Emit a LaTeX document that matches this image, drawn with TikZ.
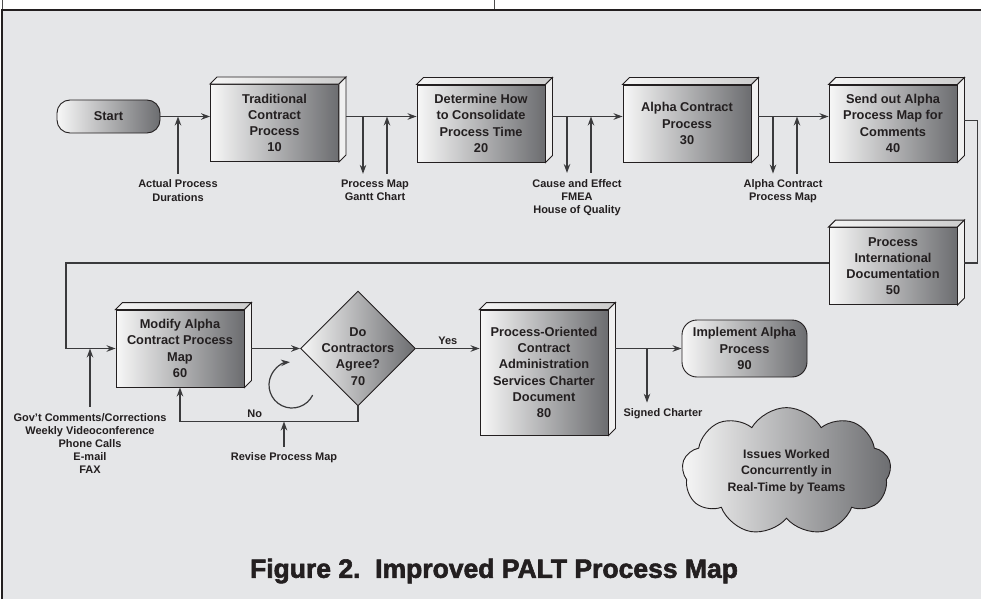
\documentclass[tikz,border=0pt]{standalone}
\usepackage{fontspec}
\setmainfont{Liberation Sans}
\newfontfamily\capfont[FakeBold=2.2]{Liberation Sans Bold}
\usetikzlibrary{arrows.meta,shapes.geometric,shapes.symbols}

\definecolor{panel}{HTML}{E5E6E8}
\definecolor{ink}{HTML}{231F20}
\definecolor{wire}{HTML}{3A3A3C}
\definecolor{faceL}{HTML}{F7F7F7}
\definecolor{faceR}{HTML}{6C6D70}
\newcommand{\boxfont}{\fontsize{12.8}{16.2}\selectfont\bfseries}
\newcommand{\lblfont}{\fontsize{11}{13.2}\selectfont\bfseries}

\begin{document}
\begin{tikzpicture}[x=1pt,y=-1pt,
    procbox/.style={draw=ink, line width=0.9pt, left color=faceL, right color=faceR,
      minimum width=128pt, minimum height=77pt, inner sep=1pt, align=center,
      font=\boxfont, text=ink},
    topface/.style={draw=ink, line width=0.9pt, left color=gray!8, right color=gray!40},
    sideface/.style={draw=ink, line width=0.9pt, fill=gray!12},
    terminal/.style={procbox, rounded corners=13pt},
    decision/.style={procbox, diamond, minimum width=115pt, minimum height=115pt, inner sep=0pt},
    inside/.style={font=\boxfont, text=ink, align=center, yshift=-8pt},
    issue/.style={procbox, cloud, cloud puffs=9, cloud puff arc=120, aspect=1.65,
      minimum width=209pt, minimum height=127pt, inner sep=0pt,
      font=\fontsize{12.3}{16.5}\selectfont\bfseries},
    note/.style={font=\lblfont, text=ink, align=center, inner sep=1pt},
    wire/.style={draw=wire, line width=1.2pt},
    flow/.style={wire, -{Stealth[length=9pt,width=6.5pt]}},
    fromside/.style={shorten <=7pt},
  ]
    % frame
    \useasboundingbox (0,0) rectangle (981,599);
    \fill[white] (0,0) rectangle (981,599);
    \fill[panel] (2,10) rectangle (981,599);
    \draw[gray!60!black, line width=0.6pt] (2,0) -- (2,9) (494,0) -- (494,9);
    \draw[ink, line width=1.3pt] (2,599) -- (2,10) -- (981,10);

    % steps
    \node[terminal, minimum width=103pt, minimum height=33pt] (start) at (108.5,116.5) {Start};
    \node[procbox] (b10) at (274.5,123) {Traditional\\Contract\\Process\\10};
    \node[procbox] (b20) at (481,123.5) {Determine How\\to Consolidate\\Process Time\\20};
    \node[procbox] (b30) at (687,123.5) {Alpha Contract\\Process\\30};
    \node[procbox] (b40) at (893,123.5) {Send out Alpha\\Process Map for\\Comments\\40};
    \node[procbox] (b50) at (893,266) {Process\\International\\Documentation\\50};
    \node[procbox] (b60) at (180,348.5) {Modify Alpha\\Contract Process\\Map\\60};
    \node[decision, label={[inside]center:Do\\Contractors\\Agree?\\70}] (d70) at (358,348.5) {};
    \node[procbox, minimum height=125pt] (b80) at (544,372.5)
        {Process-Oriented\\Contract\\Administration\\Services Charter\\Document\\80};
    \node[terminal, rounded corners=15pt, minimum width=125pt, minimum height=57pt] (n90)
        at (744.5,348.5) {Implement Alpha\\Process\\90};
    \node[issue] (teams) at (786.5,471.5) {Issues Worked\\Concurrently in\\Real-Time by Teams};

    % box depth
    \foreach \b in {b10,b20,b30,b40,b50,b60,b80}{
      \draw[topface] (\b.north west) -- ++(7,-7) -- ([shift={(7,-7)}]\b.north east)
          -- (\b.north east) -- cycle;
      \draw[sideface] (\b.north east) -- ++(7,-7) -- ([shift={(7,-7)}]\b.south east)
          -- (\b.south east) -- cycle;
    }

    % inputs and outputs
    \node[note] (l10) at (178,190.5) {Actual Process\\Durations};
    \node[note] (l20) at (375,190.5) {Process Map\\Gantt Chart};
    \node[note] (l30) at (577,197.5) {Cause and Effect\\FMEA\\House of Quality};
    \node[note] (l40) at (783,191.5) {Alpha Contract\\Process Map};
    \node[note] (l60) at (90,443.5)
        {Gov't Comments/Corrections\\Weekly Videoconference\\Phone Calls\\E-mail\\FAX};
    \node[note] (l70) at (284,458) {Revise Process Map};
    \node[note] (l80) at (663,414) {Signed Charter};

    \coordinate (o20) at ([xshift=-12pt,yshift=5pt]l20.north);
    \coordinate (i20) at ([xshift=12pt,yshift=5pt]l20.north);
    \coordinate (o30) at ([xshift=-10pt,yshift=5pt]l30.north);
    \coordinate (i30) at ([xshift=14pt,yshift=5pt]l30.north);
    \coordinate (o40) at ([xshift=-10pt,yshift=5pt]l40.north);
    \coordinate (i40) at ([xshift=14pt,yshift=5pt]l40.north);
    \coordinate (o80) at ([xshift=-16pt,yshift=5pt]l80.north);
    \coordinate (w50) at ([yshift=3pt]b50.west);
    \coordinate (wrap) at (66,0);
    \coordinate (loopc) at (292,385);

    % top row
    \draw[flow] (start.east) -- (start.east -| b10.west);
    \draw[flow] ([yshift=5pt]l10.north) -- (l10.north |- start.east);
    \draw[flow, fromside] (start.east -| b10.east) -- (start.east -| b20.west);
    \draw[flow] (o20 |- start.east) -- (o20);
    \draw[flow] (i20) -- (i20 |- start.east);
    \draw[flow, fromside] (start.east -| b20.east) -- (start.east -| b30.west);
    \draw[flow] (o30 |- start.east) -- (o30);
    \draw[flow] (i30) -- (i30 |- start.east);
    \draw[flow, fromside] (start.east -| b30.east) -- (start.east -| b40.west);
    \draw[flow] (o40 |- start.east) -- (o40);
    \draw[flow] (i40) -- (i40 |- start.east);
    \draw[wire] ([shift={(7,-3)}]b40.east) -- ++(13,0) |- ([shift={(7,-3)}]b50.east);

    % bottom row
    \draw[flow] (w50) -- (w50 -| wrap) |- (b60.west);
    \draw[flow] ([yshift=5pt]l60.north) -- (l60.north |- b60.west);
    \draw[flow, fromside] (b60.east) -- (d70.west);
    \draw[flow] (d70.east) -- node[note, above=2pt] {Yes} (d70.east -| b80.west);
    \draw[flow] (d70.south) -- ++(0,15) coordinate (nob)
        -| node[note, pos=0.29, above=2pt] {No} (b60.south);
    \draw[flow] ([yshift=5pt]l70.north) -- (l70.north |- nob);
    \draw[flow] ([shift={(26:23)}]loopc) arc[start angle=26, end angle=265, radius=23];
    \draw[flow, fromside] (n90.west -| b80.east) -- (n90.west);
    \draw[flow] (o80 |- n90.west) -- (o80);

    % caption
    \node[font=\capfont\fontsize{26.5}{30}\selectfont, text=ink] (caption) at (494,571)
        {Figure 2.\ \ Improved PALT Process Map};
\end{tikzpicture}
\end{document}
